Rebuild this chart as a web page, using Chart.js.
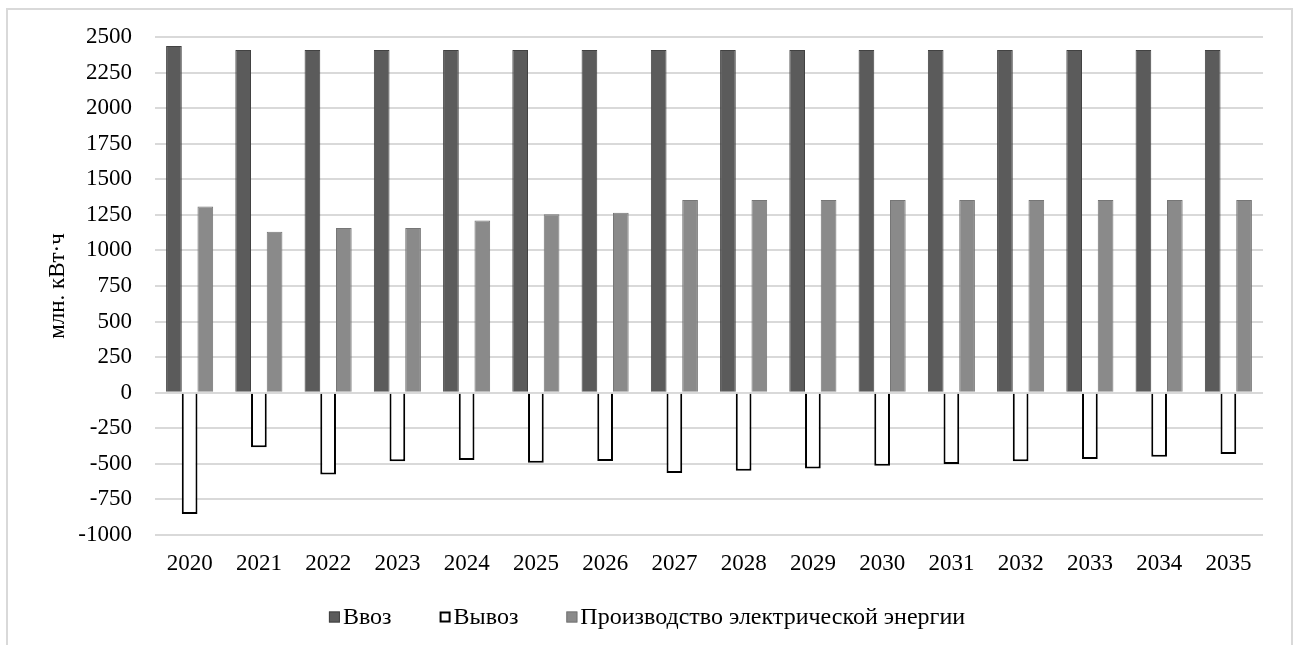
<!DOCTYPE html>
<html lang="ru">
<head>
<meta charset="utf-8">
<title>Баланс электрической энергии, 2020–2035</title>
<script src="https://cdn.jsdelivr.net/npm/chart.js@4/dist/chart.umd.min.js"></script>
<style>
  html, body { margin: 0; padding: 0; background: #ffffff; }
  #wrap { width: 1302px; height: 645px; position: relative; }
  canvas { display: block; }
</style>
</head>
<body>
<div id="wrap"><canvas id="chart" width="1302" height="645"></canvas></div>
<script>
// Годы прогноза
const years = ['2020','2021','2022','2023','2024','2025','2026','2027',
               '2028','2029','2030','2031','2032','2033','2034','2035'];

// Ввоз электроэнергии, млн. кВт·ч
const importValues = [2436, 2408, 2408, 2408, 2408, 2408, 2408, 2408,
                      2408, 2408, 2408, 2408, 2408, 2408, 2408, 2408];

// Вывоз электроэнергии (отрицательные значения), млн. кВт·ч
const exportValues = [-852, -384, -574, -482, -473, -492, -480, -564,
                      -548, -532, -513, -501, -482, -466, -450, -431];

// Производство электрической энергии, млн. кВт·ч
const productionValues = [1308, 1131, 1157, 1157, 1210, 1255, 1264, 1355,
                          1355, 1355, 1355, 1355, 1355, 1355, 1355, 1355];

// Подписи делений оси значений
const yTickValues = [2500, 2250, 2000, 1750, 1500, 1250, 1000, 750, 500, 250,
                     0, -250, -500, -750, -1000];

const FONT = '"Liberation Serif", "Times New Roman", serif';
const TEXT = '#000000';

// Рамка вокруг всей диаграммы
const frame = {
  id: 'frame',
  beforeDraw(chart) {
    const ctx = chart.ctx;
    ctx.save();
    ctx.fillStyle = '#ffffff';
    ctx.fillRect(0, 0, chart.width, chart.height);
    ctx.strokeStyle = '#d9d9d9';
    ctx.lineWidth = 2;
    ctx.strokeRect(7, 9, 1285, 660);
    ctx.restore();
  }
};

// Компактная легенда под осью: квадрат-маркер вплотную к подписи
const compactLegend = {
  id: 'compactLegend',
  afterDraw(chart, args, opts) {
    const ctx = chart.ctx;
    const sets = chart.data.datasets;
    const box = opts.box, gap = opts.gap, spacing = opts.spacing;
    ctx.save();
    ctx.font = opts.fontSize + 'px ' + FONT;
    ctx.textBaseline = 'middle';
    ctx.textAlign = 'left';
    const widths = sets.map(ds => ctx.measureText(ds.label).width);
    const total = widths.reduce((s, w) => s + box + gap + w, 0) + spacing * (sets.length - 1);
    let x = opts.centerX - total / 2;
    const y = opts.y;
    sets.forEach((ds, i) => {
      const lw = i === 1 ? 2 : 1;
      ctx.fillStyle = ds.backgroundColor;
      ctx.fillRect(x, y - box / 2, box, box);
      ctx.strokeStyle = ds.borderColor;
      ctx.lineWidth = lw;
      ctx.strokeRect(x + lw / 2, y - box / 2 + lw / 2, box - lw, box - lw);
      ctx.fillStyle = TEXT;
      ctx.fillText(ds.label, x + box + gap, y + 1);
      x += box + gap + widths[i] + spacing;
    });
    ctx.restore();
  }
};

new Chart(document.getElementById('chart'), {
  type: 'bar',
  data: {
    labels: years,
    datasets: [
      {
        label: 'Ввоз',
        data: importValues,
        backgroundColor: '#5b5b5b',
        borderColor: '#424242',
        borderWidth: 1
      },
      {
        label: 'Вывоз',
        data: exportValues,
        backgroundColor: '#ffffff',
        borderColor: '#000000',
        borderWidth: 2
      },
      {
        label: 'Производство электрической энергии',
        data: productionValues,
        backgroundColor: '#8a8a8a',
        borderColor: '#767676',
        borderWidth: 1
      }
    ]
  },
  plugins: [frame, compactLegend],
  options: {
    responsive: false,
    animation: false,
    devicePixelRatio: 1,
    layout: { padding: { left: 40, right: 39, top: 37, bottom: 49 } },
    datasets: {
      bar: { barPercentage: 1.0, categoryPercentage: 0.68, grouped: true }
    },
    plugins: {
      tooltip: { enabled: false },
      legend: { display: false },
      compactLegend: { centerX: 647, y: 617, box: 11, gap: 3, spacing: 48, fontSize: 24 }
    },
    scales: {
      x: {
        grid: { display: false, drawTicks: false },
        border: { display: false },
        ticks: {
          color: TEXT,
          font: { family: FONT, size: 23 },
          padding: 15,
          maxRotation: 0,
          autoSkip: false
        },
        afterFit(scale) { scale.height = 61; }
      },
      y: {
        min: -1000,
        max: 2500,
        afterBuildTicks(scale) {
          scale.ticks = yTickValues.map(v => ({ value: v }));
        },
        grid: {
          color: '#d9d9d9',
          lineWidth: 2,
          drawTicks: false
        },
        border: { display: false },
        ticks: {
          color: TEXT,
          font: { family: FONT, size: 23 },
          padding: 23,
          callback: v => String(v)
        },
        title: {
          display: true,
          text: 'млн. кВт·ч',
          color: TEXT,
          font: { family: FONT, size: 23 },
          padding: { top: 4, bottom: 0 }
        },
        afterFit(scale) { scale.width = 115; }
      }
    }
  }
});
</script>
</body>
</html>
